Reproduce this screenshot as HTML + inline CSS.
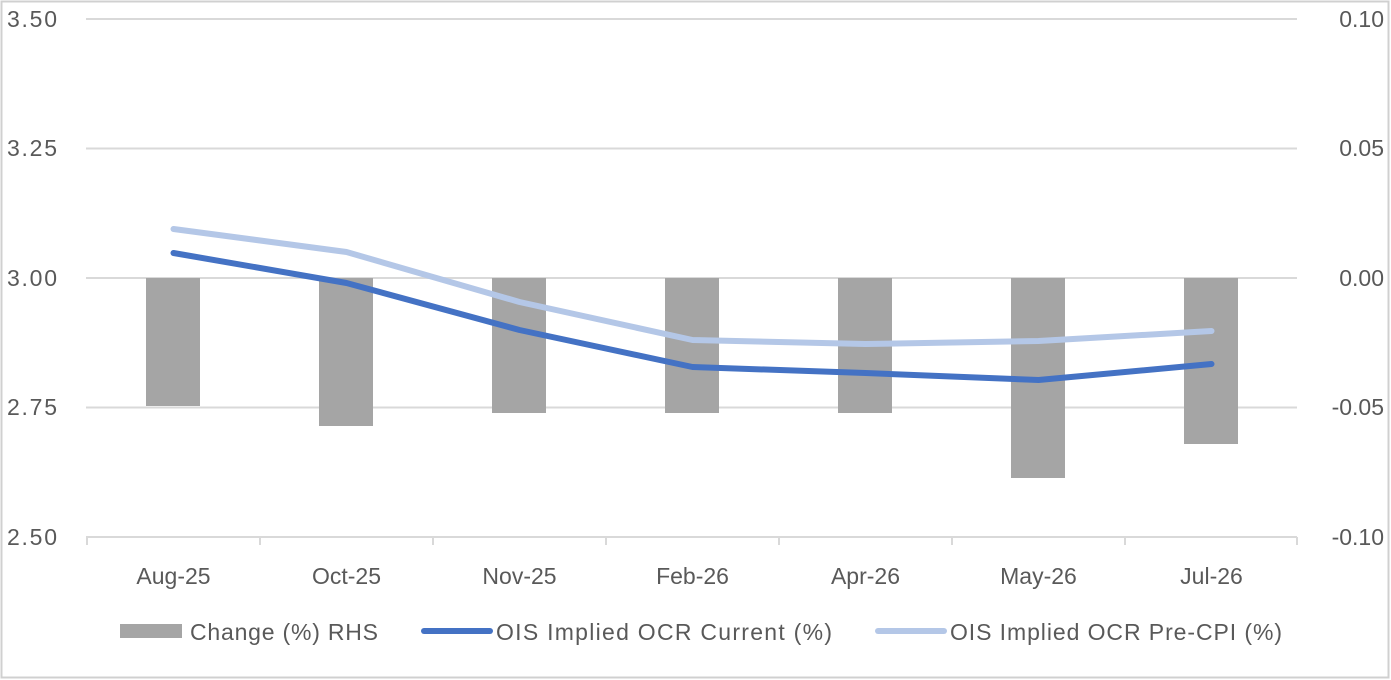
<!DOCTYPE html>
<html><head><meta charset="utf-8"><style>
html,body{margin:0;padding:0;background:#fff;}
svg{display:block;}
text{font-family:"Liberation Sans",sans-serif;font-size:23px;fill:#595959;}
</style></head><body>
<svg width="1391" height="680" xmlns="http://www.w3.org/2000/svg">
<rect x="1.5" y="1.5" width="1387" height="676" fill="#fff" stroke="#d0d0d0" stroke-width="2"/>
<g stroke="#d9d9d9" stroke-width="2">
<line x1="86" y1="19" x2="1297" y2="19"/>
<line x1="86" y1="148.5" x2="1297" y2="148.5"/>
<line x1="86" y1="278" x2="1297" y2="278"/>
<line x1="86" y1="407.5" x2="1297" y2="407.5"/>
<line x1="86" y1="537" x2="1297" y2="537"/>
<line x1="87" y1="537" x2="87" y2="545"/><line x1="260" y1="537" x2="260" y2="545"/><line x1="433" y1="537" x2="433" y2="545"/><line x1="606" y1="537" x2="606" y2="545"/><line x1="779" y1="537" x2="779" y2="545"/><line x1="952" y1="537" x2="952" y2="545"/><line x1="1125" y1="537" x2="1125" y2="545"/><line x1="1297" y1="537" x2="1297" y2="545"/>
</g>
<g fill="#a5a5a5">
<rect x="146" y="278" width="54" height="128"/>
<rect x="319" y="278" width="54" height="148"/>
<rect x="492" y="278" width="54" height="135"/>
<rect x="665" y="278" width="54" height="135"/>
<rect x="838" y="278" width="54" height="135"/>
<rect x="1011" y="278" width="54" height="200"/>
<rect x="1184" y="278" width="54" height="166"/>
</g>
<polyline points="173.5,229 346.5,252 519.5,302 692.5,340 865.5,344 1038.5,341 1211.5,331" fill="none" stroke="#b4c7e7" stroke-width="6" stroke-linecap="round" stroke-linejoin="round"/>
<polyline points="173.5,253 346.5,283 519.5,330 692.5,367 865.5,373 1038.5,380 1211.5,364" fill="none" stroke="#4472c4" stroke-width="6" stroke-linecap="round" stroke-linejoin="round"/>
<g text-anchor="start">
<text x="7" y="27" textLength="50">3.50</text><text x="7" y="156" textLength="50">3.25</text><text x="7" y="286" textLength="50">3.00</text><text x="7" y="415" textLength="50">2.75</text><text x="7" y="545" textLength="50">2.50</text>
</g>
<g text-anchor="end">
<text x="1384" y="27">0.10</text><text x="1384" y="156">0.05</text><text x="1384" y="286">0.00</text><text x="1384" y="415">-0.05</text><text x="1384" y="545">-0.10</text>
</g>
<g text-anchor="middle">
<text x="173.5" y="584">Aug-25</text><text x="346.5" y="584">Oct-25</text><text x="519.5" y="584">Nov-25</text><text x="692.5" y="584">Feb-26</text><text x="865.5" y="584">Apr-26</text><text x="1038.5" y="584">May-26</text><text x="1211.5" y="584">Jul-26</text>
</g>
<rect x="120" y="624" width="62" height="14" fill="#a5a5a5"/>
<text x="190" y="640" textLength="188">Change (%) RHS</text>
<line x1="424" y1="631" x2="490" y2="631" stroke="#4472c4" stroke-width="6" stroke-linecap="round"/>
<text x="496" y="640" textLength="336">OIS Implied OCR Current (%)</text>
<line x1="878" y1="631" x2="944" y2="631" stroke="#b4c7e7" stroke-width="6" stroke-linecap="round"/>
<text x="950" y="640" textLength="332">OIS Implied OCR Pre-CPI (%)</text>
</svg>
</body></html>
